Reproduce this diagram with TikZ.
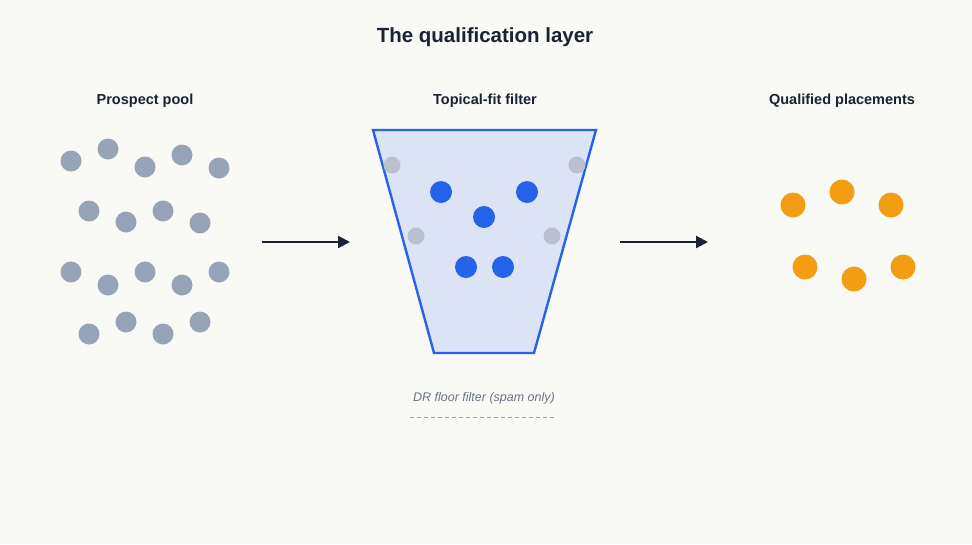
\documentclass[tikz,border=0pt]{standalone}
\usepackage{fontspec}
\setmainfont{Liberation Sans}
\usetikzlibrary{arrows.meta}
\definecolor{bgc}{HTML}{F9F9F6}
\definecolor{ink}{HTML}{1A2233}
\definecolor{pool}{HTML}{97A4B8}
\definecolor{fade}{HTML}{B9C1CF}
\definecolor{fit}{HTML}{2563EB}
\definecolor{funfill}{HTML}{DCE3F5}
\definecolor{gold}{HTML}{F29D12}
\definecolor{note}{HTML}{6B7585}
\tikzset{
  dot/.style={circle,inner sep=0pt,minimum size=#1},
  head/.style={font=\bfseries\fontsize{14.5}{17}\selectfont,text=ink},
  flow/.style={draw=ink,line width=2.2pt,-{Triangle[length=12pt,width=12pt]}}
}
\begin{document}
\begin{tikzpicture}[x=1pt,y=-1pt]
  \fill[bgc] (0,0) rectangle (972,544); % background
  \node[font=\bfseries\fontsize{20.5}{24}\selectfont,text=ink] (title) at (485,37) {The qualification layer};
  \node[head] (poolhd) at (145,101) {Prospect pool};
  \node[head] (filthd) at (485,101) {Topical-fit filter};
  \node[head] (qualhd) at (842,101) {Qualified placements};
  % prospect pool
  \foreach \x/\y [count=\i] in {71/161,108/149,145/167,182/155,219/168,89/211,126/222,163/211,200/223,
      71/272,108/285,145/272,182/285,219/272,89/334,126/322,163/334,200/322}
    \node[dot=21pt,fill=pool] (p\i) at (\x,\y) {};
  % funnel
  \draw[fit,fill=funfill,line width=2.4pt] (373,130) -- (596,130) -- (534,353) -- (434,353) -- cycle;
  \foreach \x/\y [count=\i] in {392/165,577/165,416/236,552/236}
    \node[dot=17pt,fill=fade] (f\i) at (\x,\y) {};
  \foreach \x/\y [count=\i] in {441/192,527/192,484/217,466/267,503/267}
    \node[dot=22pt,fill=fit] (b\i) at (\x,\y) {};
  % qualified
  \foreach \x/\y [count=\i] in {793/205,842/192,891/205,805/267,854/279,903/267}
    \node[dot=25pt,fill=gold] (q\i) at (\x,\y) {};
  % arrows
  \coordinate (a1) at (262,242); \coordinate (a2) at (350,242);
  \coordinate (a3) at (620,242); \coordinate (a4) at (708,242);
  \draw[flow] (a1) -- (a2);
  \draw[flow] (a3) -- (a4);
  \node[font=\itshape\fontsize{12.5}{15}\selectfont,text=note] (drlbl) at (484,398) {DR floor filter (spam only)};
  \coordinate (d1) at (410,417); \coordinate (d2) at (556,417);
  \draw[pool,dash pattern=on 4pt off 3pt,line width=1pt] (d1) -- (d2);
\end{tikzpicture}
\end{document}
